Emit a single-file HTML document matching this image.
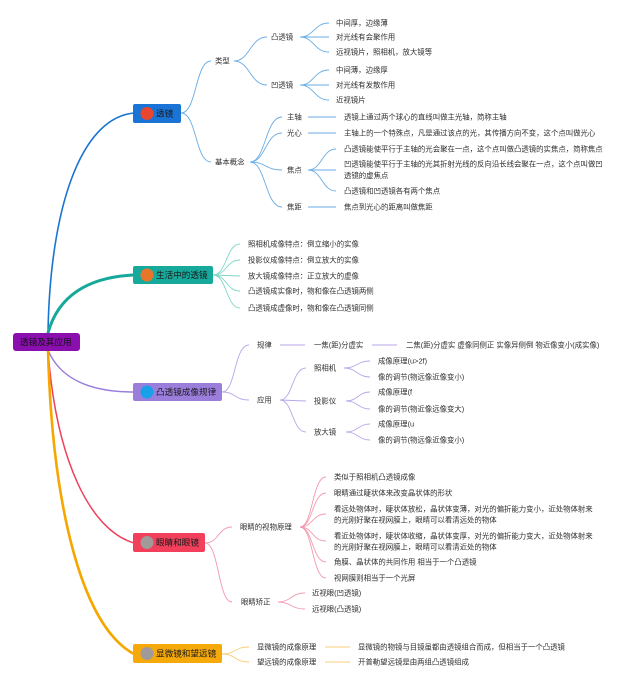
<!DOCTYPE html>
<html>
<head>
<meta charset="utf-8">
<style>
html,body{margin:0;padding:0;background:#fff;}
svg{display:block;}
text{font-family:"Liberation Sans","Noto Sans CJK SC",sans-serif;fill:#2e2e2e;dominant-baseline:central;}
.t{font-size:7.4px;}
.b{font-size:8.6px;fill:#1a1a1a;}
</style>
</head>
<body>
<svg width="640" height="683" viewBox="0 0 640 683" xmlns="http://www.w3.org/2000/svg">
<!-- root connectors -->
<g fill="none" stroke-linecap="round">
<path d="M48,333 C50,210 80,118 134,113" stroke="#1a74d2" stroke-width="1.6"/>
<path d="M48,333 C58,296 88,277 134,275" stroke="#16a89a" stroke-width="3"/>
<path d="M48,350 C62,384 100,392 134,392" stroke="#9a7ddc" stroke-width="1.5"/>
<path d="M48,350 C56,460 90,530 134,543" stroke="#ee3f5c" stroke-width="1.5"/>
<path d="M48,350 C52,500 80,625 134,654" stroke="#f5a700" stroke-width="2.6"/>
</g>

<!-- section 1 lines -->
<g fill="none" stroke="#6aaee6" stroke-width="0.9">
<path d="M181,113 C197,113 195,61 211,61"/>
<path d="M181,113 C197,113 195,162 211,162"/>
<path d="M234,61 C250,61 250,37 267,37"/>
<path d="M234,61 C250,61 250,85 267,85"/>
<path d="M300,37 C314,37 314,23 329,23"/>
<path d="M300,37 L329,37"/>
<path d="M300,37 C314,37 314,52 329,52"/>
<path d="M300,85 C314,85 314,70 329,70"/>
<path d="M300,85 L329,85"/>
<path d="M300,85 C314,85 314,100 329,100"/>
<path d="M250,162 C266,162 265,117 282,117"/>
<path d="M250,162 C266,162 265,133 282,133"/>
<path d="M250,162 C266,162 265,170 282,170"/>
<path d="M250,162 C266,162 265,207 282,207"/>
<path d="M308,117 L336,117"/>
<path d="M308,133 L336,133"/>
<path d="M308,207 L336,207"/>
<path d="M308,170 C322,170 322,149 336,149"/>
<path d="M308,170 L336,170"/>
<path d="M308,170 C322,170 322,191 336,191"/>
</g>

<!-- section 2 lines -->
<g fill="none" stroke="#7fd6c8" stroke-width="0.9">
<path d="M213,275 C227,275 226,244 240,244"/>
<path d="M213,275 C227,275 226,260 240,260"/>
<path d="M213,275 L240,276"/>
<path d="M213,275 C227,275 226,291 240,291"/>
<path d="M213,275 C227,275 226,308 240,308"/>
</g>

<!-- section 3 lines -->
<g fill="none" stroke="#b9a7ea" stroke-width="0.9">
<path d="M222,392 C236,392 234,345 249,345"/>
<path d="M222,392 C236,392 234,400 249,400"/>
<path d="M280,345 L305,345"/>
<path d="M372,345 L397,345"/>
<path d="M280,400 C293,400 292,368 306,368"/>
<path d="M280,400 L306,401"/>
<path d="M280,400 C293,400 292,432 306,432"/>
<path d="M344,368 C357,368 357,361 370,361"/>
<path d="M344,368 C357,368 357,377 370,377"/>
<path d="M346,401 C358,401 358,392 370,392"/>
<path d="M346,401 C358,401 358,409 370,409"/>
<path d="M346,432 C358,432 358,424 370,424"/>
<path d="M346,432 C358,432 358,440 370,440"/>
</g>

<!-- section 4 lines -->
<g fill="none" stroke="#f29ab0" stroke-width="0.9">
<path d="M205,543 C219,543 218,527 232,527"/>
<path d="M205,543 C219,543 218,602 232,602"/>
<path d="M300,527 C313,527 312,477 326,477"/>
<path d="M300,527 C313,527 312,493 326,493"/>
<path d="M300,527 C313,527 312,514 326,514"/>
<path d="M300,527 C313,527 312,541 326,541"/>
<path d="M300,527 C313,527 312,562 326,562"/>
<path d="M300,527 C313,527 312,578 326,578"/>
<path d="M278,602 C291,602 291,593 305,593"/>
<path d="M278,602 C291,602 291,609 305,609"/>
</g>

<!-- section 5 lines -->
<g fill="none" stroke="#f8cd78" stroke-width="0.9">
<path d="M222,654 C236,654 234,647 249,647"/>
<path d="M222,654 C236,654 234,662 249,662"/>
<path d="M325,647 L350,647"/>
<path d="M325,662 L350,662"/>
</g>

<!-- root -->
<rect x="13" y="333" width="67" height="18" rx="3" fill="#8a0fae"/>
<text class="b" x="20" y="342" style="fill:#111">透镜及其应用</text>

<!-- boxes -->
<rect x="133" y="104" width="48" height="19" rx="2" fill="#1a74d6"/>
<circle cx="147" cy="113.5" r="6.5" fill="#e8462e"/>
<text class="b" x="156" y="113.5">透镜</text>

<rect x="133" y="266" width="80" height="18" rx="2" fill="#17a99b"/>
<circle cx="147" cy="275" r="6.5" fill="#e8762a"/>
<text class="b" x="156" y="275">生活中的透镜</text>

<rect x="133" y="383" width="89" height="18" rx="2" fill="#9b7ddc"/>
<circle cx="147" cy="392" r="6.5" fill="#1aa0e8"/>
<text class="b" x="156" y="392">凸透镜成像规律</text>

<rect x="133" y="533" width="72" height="19" rx="2" fill="#f2405c"/>
<circle cx="147" cy="542.5" r="6.5" fill="#a09a9a"/>
<text class="b" x="156" y="542.5">眼睛和眼镜</text>

<rect x="133" y="644" width="89" height="19" rx="2" fill="#f5a90a"/>
<circle cx="147" cy="653.5" r="6.5" fill="#a09a9a"/>
<text class="b" x="156" y="653.5">显微镜和望远镜</text>

<!-- section 1 text -->
<text class="t" x="215" y="61">类型</text>
<text class="t" x="271" y="37">凸透镜</text>
<text class="t" x="271" y="85">凹透镜</text>
<text class="t" x="336" y="23">中间厚，边缘薄</text>
<text class="t" x="336" y="37">对光线有会聚作用</text>
<text class="t" x="336" y="52">远视镜片，照相机，放大镜等</text>
<text class="t" x="336" y="70">中间薄，边缘厚</text>
<text class="t" x="336" y="85">对光线有发散作用</text>
<text class="t" x="336" y="100">近视镜片</text>
<text class="t" x="215" y="162">基本概念</text>
<text class="t" x="287" y="117">主轴</text>
<text class="t" x="287" y="133">光心</text>
<text class="t" x="287" y="170">焦点</text>
<text class="t" x="287" y="207">焦距</text>
<text class="t" x="344" y="117">透镜上通过两个球心的直线叫做主光轴，简称主轴</text>
<text class="t" x="344" y="133">主轴上的一个特殊点，凡是通过该点的光，其传播方向不变，这个点叫做光心</text>
<text class="t" x="344" y="149">凸透镜能使平行于主轴的光会聚在一点，这个点叫做凸透镜的实焦点，简称焦点</text>
<text class="t" x="344" y="164">凹透镜能使平行于主轴的光其折射光线的反向沿长线会聚在一点，这个点叫做凹</text>
<text class="t" x="344" y="175.5">透镜的虚焦点</text>
<text class="t" x="344" y="191">凸透镜和凹透镜各有两个焦点</text>
<text class="t" x="344" y="207">焦点到光心的距离叫做焦距</text>

<!-- section 2 text -->
<text class="t" x="248" y="244">照相机成像特点：倒立缩小的实像</text>
<text class="t" x="248" y="260">投影仪成像特点：倒立放大的实像</text>
<text class="t" x="248" y="276">放大镜成像特点：正立放大的虚像</text>
<text class="t" x="248" y="291">凸透镜成实像时，物和像在凸透镜两侧</text>
<text class="t" x="248" y="308">凸透镜成虚像时，物和像在凸透镜同侧</text>

<!-- section 3 text -->
<text class="t" x="257" y="345">规律</text>
<text class="t" x="314" y="345">一焦(距)分虚实</text>
<text class="t" x="406" y="345">二焦(距)分虚实 虚像同侧正 实像异侧倒 物近像变小(成实像)</text>
<text class="t" x="257" y="400">应用</text>
<text class="t" x="314" y="368">照相机</text>
<text class="t" x="314" y="401">投影仪</text>
<text class="t" x="314" y="432">放大镜</text>
<text class="t" x="378" y="361">成像原理(u&gt;2f)</text>
<text class="t" x="378" y="377">像的调节(物远像近像变小)</text>
<text class="t" x="378" y="392">成像原理(f</text>
<text class="t" x="378" y="409">像的调节(物近像远像变大)</text>
<text class="t" x="378" y="424">成像原理(u</text>
<text class="t" x="378" y="440">像的调节(物远像近像变小)</text>

<!-- section 4 text -->
<text class="t" x="240" y="527">眼睛的视物原理</text>
<text class="t" x="334" y="477">类似于照相机凸透镜成像</text>
<text class="t" x="334" y="493">眼睛通过睫状体来改变晶状体的形状</text>
<text class="t" x="334" y="509">看远处物体时，睫状体放松，晶状体变薄，对光的偏折能力变小，近处物体射来</text>
<text class="t" x="334" y="520">的光刚好聚在视网膜上，眼睛可以看清远处的物体</text>
<text class="t" x="334" y="536">看近处物体时，睫状体收缩，晶状体变厚，对光的偏折能力变大，近处物体射来</text>
<text class="t" x="334" y="547">的光刚好聚在视网膜上，眼睛可以看清近处的物体</text>
<text class="t" x="334" y="562">角膜、晶状体的共同作用 相当于一个凸透镜</text>
<text class="t" x="334" y="578">视网膜则相当于一个光屏</text>
<text class="t" x="241" y="602">眼睛矫正</text>
<text class="t" x="312" y="593">近视眼(凹透镜)</text>
<text class="t" x="312" y="609">远视眼(凸透镜)</text>

<!-- section 5 text -->
<text class="t" x="257" y="647">显微镜的成像原理</text>
<text class="t" x="257" y="662">望远镜的成像原理</text>
<text class="t" x="358" y="647">显微镜的物镜与目镜虽都由透镜组合而成，但相当于一个凸透镜</text>
<text class="t" x="358" y="662">开普勒望远镜是由两组凸透镜组成</text>
</svg>
</body>
</html>
